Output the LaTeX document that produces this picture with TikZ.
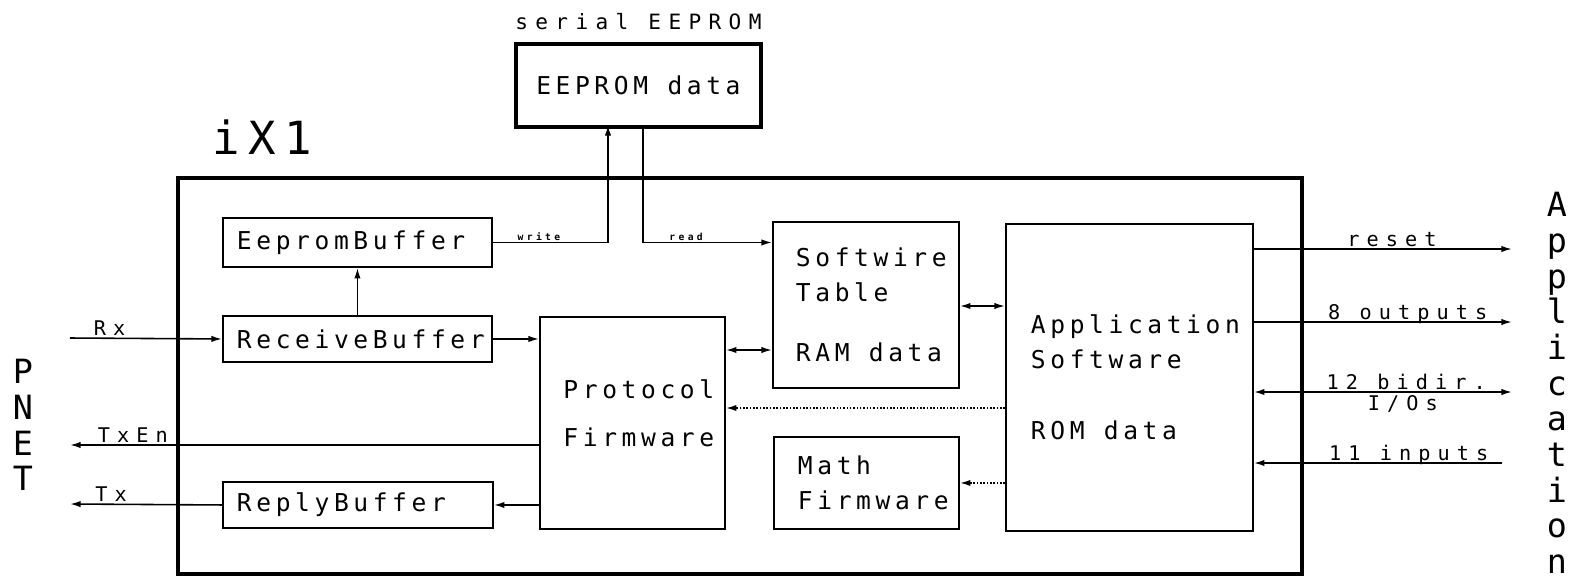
\documentclass[tikz,border=0pt]{standalone}
\usepackage{fontspec}
\usetikzlibrary{arrows.meta,positioning}

\newfontfamily\plotfont{DejaVu Sans Mono}[LetterSpace=18.7]
\newfontfamily\plotwide{DejaVu Sans Mono}[LetterSpace=35]
\newfontfamily\plotplain{DejaVu Sans Mono}

\tikzset{
  blk/.style={draw, line width=1.1pt, anchor=north west, align=left, inner ysep=0pt,
    font={\plotfont\fontsize{14pt}{19.8pt}\selectfont}},
  chip/.style={draw, line width=2.2pt, anchor=north west, inner sep=0pt},
  conn/.style={line width=0.9pt, -{Latex[length=6pt,width=3.6pt]}},
  both/.style={conn, {Latex[length=6pt,width=3.6pt]}-{Latex[length=6pt,width=3.6pt]}},
  dotconn/.style={conn, densely dotted},
  lbl/.style={font={\plotwide\fontsize{11.5pt}{12pt}\selectfont}, anchor=base, inner sep=0pt, yshift=1.6pt},
  lblb/.style={font={\plotwide\fontsize{11.5pt}{12pt}\selectfont}, anchor=north, inner sep=1.5pt},
  tinylbl/.style={font={\plotwide\bfseries\fontsize{5.5pt}{6pt}\selectfont}, anchor=base, inner sep=0pt, yshift=1.2pt},
  sidetxt/.style={font={\plotplain\fontsize{19pt}{20.3pt}\selectfont}, align=center, inner sep=0pt}
}

\begin{document}
\begin{tikzpicture}[x=0.02cm, y=-0.02cm]
  \useasboundingbox (0,0) rectangle (1571,579);

  % the iX1 chip
  \node[chip, minimum width=22.48cm, minimum height=7.92cm] (ix1) at (176,176) {};
  \node[font={\plotfont\fontsize{26pt}{26pt}\selectfont}, anchor=base] (ixname) at (262,154) {iX1};

  % serial EEPROM
  \node[chip, minimum width=4.9cm, minimum height=1.66cm, align=center,
        font={\plotfont\fontsize{14pt}{19.8pt}\selectfont}] (eeprom) at (514,42) {EEPROM data};
  \node[font={\plotwide\fontsize{12pt}{12pt}\selectfont}, anchor=base] (eepromname) at (eeprom.north |- 0,29) {serial EEPROM};

  % buffers
  \node[blk, inner xsep=0.28cm, text width=4.82cm, minimum height=0.98cm] (eebuf) at (222,217) {EepromBuffer};
  \node[blk, inner xsep=0.28cm, text width=4.82cm, minimum height=0.92cm] (rxbuf) at (222,315) {ReceiveBuffer};
  \node[blk, inner xsep=0.28cm, text width=4.84cm, minimum height=0.92cm] (replybuf) at (222,481) {ReplyBuffer};

  % firmware and data blocks
  \node[blk, inner xsep=0.47cm, text width=2.76cm, minimum height=4.24cm] (proto) at (539,316) {Protocol\\[0.28cm]Firmware\\[-0.3cm]\mbox{}};
  \node[blk, inner xsep=0.46cm, text width=2.8cm, minimum height=3.32cm] (softwire) at (772,221) {Softwire\\Table\\[0.5cm]\mbox{RAM\hspace{11pt}data}};
  \node[blk, inner xsep=0.48cm, text width=2.74cm, minimum height=1.84cm] (math) at (773,436) {Math\\Firmware};
  \node[blk, inner xsep=0.5cm, text width=3.94cm, minimum height=6.14cm] (app) at (1005,223) {Application\\Software\\[0.74cm]\mbox{ROM\hspace{11pt}data}};

  % outside world
  \node[sidetxt] (pnet) at (23,425) {P\\N\\E\\T};
  \node[sidetxt] (appside) at (1557,383) {A\\p\\p\\l\\i\\c\\a\\t\\i\\o\\n};

  \coordinate (rxin) at (70,338);
  \coordinate (txenout) at (70,445);
  \coordinate (txout) at (70,504);
  \coordinate (wr) at (608,125);
  \coordinate (rd) at (643,125);
  \coordinate (rst) at (1512,249);
  \coordinate (outs) at (1512,322);
  \coordinate (bidir) at (1512,392);
  \coordinate (ins) at (1502,463);

  % network side
  \draw[conn] (rxin) -- (rxbuf.west) node[lbl, pos=0.26] {Rx};
  \draw[conn] (rxbuf) -- (eebuf);
  \draw[conn] (rxbuf.east) -- (rxbuf.east -| proto.west);
  \draw[conn] (proto.west |- txenout) -- (txenout) node[lbl, pos=0.866] {TxEn};
  \draw[conn] (proto.west |- replybuf.east) -- (replybuf.east);
  \draw[conn] (replybuf.west) -- (txout) node[lbl, pos=0.73] {Tx};

  % EEPROM access
  \draw[conn] (eebuf.east) -| (wr) node[tinylbl, pos=0.2] {write};
  \draw[conn] (rd) |- (softwire.west |- eebuf.east) node[tinylbl, pos=0.667] {read};

  % inside the chip
  \draw[both] (proto.east |- 0,350) -- (softwire.west |- 0,350);
  \draw[both] (softwire.east |- 0,306) -- (app.west |- 0,306);
  \draw[dotconn] (app.west |- 0,408) -- (proto.east |- 0,408);
  \draw[dotconn] (app.west |- math.east) -- (math.east);

  % application side
  \draw[conn] (app.east |- rst) -- (rst) node[lbl, pos=0.535] {reset};
  \draw[conn] (app.east |- outs) -- (outs) node[lbl, pos=0.596] {8 outputs};
  \draw[both] (app.east |- bidir) -- (bidir) node[lbl, pos=0.59] {12 bidir.} node[lblb, pos=0.577] {I/Os};
  \draw[conn] (ins) -- (app.east |- ins) node[lbl, pos=0.376] {11 inputs};
\end{tikzpicture}
\end{document}
